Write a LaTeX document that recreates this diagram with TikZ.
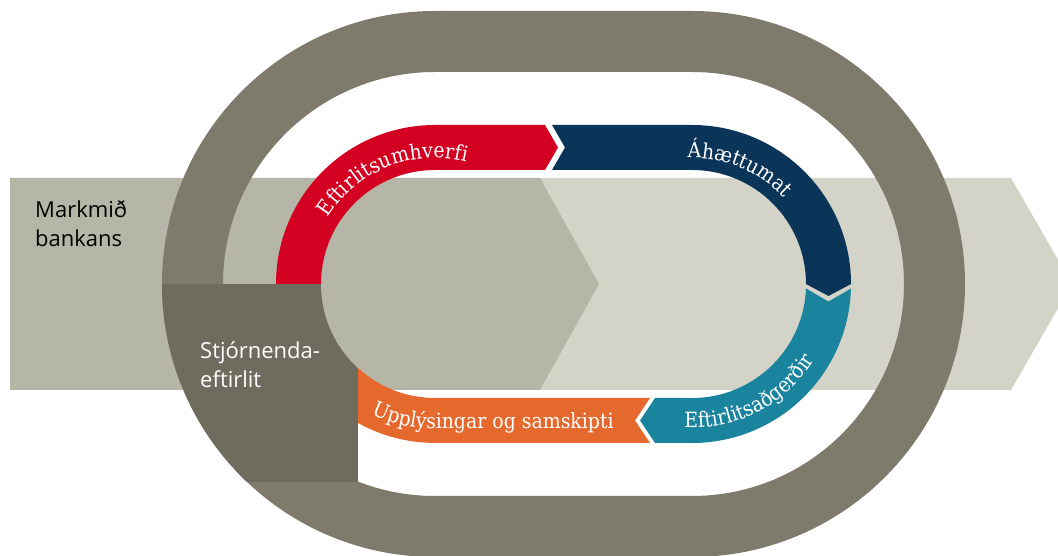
\documentclass[tikz,border=0pt]{standalone}
\usepackage{fontspec}
\setmainfont{Open Sans}
\newfontfamily\arcfont[FakeStretch=0.9]{DejaVu Serif}
\usetikzlibrary{decorations.text,calc}
\definecolor{bandA}{HTML}{B6B6A8}
\definecolor{bandB}{HTML}{D3D3C7}
\definecolor{ringC}{HTML}{7E7B6C}
\definecolor{boxC}{HTML}{6F6C5F}
\definecolor{redC}{HTML}{D30022}
\definecolor{navyC}{HTML}{0B3459}
\definecolor{tealC}{HTML}{1A849F}
\definecolor{orangeC}{HTML}{E5682D}
\newcommand\stad[1]{(435,272+#1) -- (692,272+#1) arc[start angle=90,end angle=-90,radius=#1] -- (435,272-#1) arc[start angle=270,end angle=90,radius=#1] -- cycle}
\newcommand\arcstyle{\arcfont\fontsize{21}{24}\selectfont}
\tikzset{
  sanslabel/.style={font=\fontsize{22}{29}\selectfont, align=left, inner sep=0pt},
  arclabel/.style={decorate, decoration={text along path, text color=white, text align=left, text={|\arcstyle|#1}}}
}
\begin{document}
\begin{tikzpicture}[x=1pt,y=1pt]
\useasboundingbox (0,0) rectangle (1058,556);
\clip (0,0) rectangle (1058,556);
% background band (arrow)
\fill[bandB] (10,166) -- (10,378) -- (1011,378) -- (1072,272) -- (1011,166) -- cycle;
\fill[bandA] (10,166) -- (10,378) -- (540,378) -- (599,272) -- (540,166) -- cycle;
% outer ring
\fill[ringC, even odd rule] \stad{273} \stad{212};
% management box
\begin{scope}
  \clip \stad{273};
  \fill[boxC] (161,74) rectangle (358,272);
\end{scope}
\begin{scope}
  \clip (161,74) rectangle (358,272);
  \fill[bandA] \stad{114};
\end{scope}
% coloured cycle
\fill[redC] (276,272) arc[start angle=180,end angle=90,radius=159] -- (545,431) -- (558,408.5) -- (545,386) -- (435,386) arc[start angle=90,end angle=180,radius=114] -- cycle;
\fill[navyC] (552,431) -- (565,408.5) -- (552,386) -- (692,386) arc[start angle=90,end angle=0,radius=114] -- (828.5,260) -- (851,272) arc[start angle=0,end angle=90,radius=159] -- cycle;
\fill[tealC] (851,267.5) -- (828.5,254.5) -- (806,267.5) arc[start angle=-2.26,end angle=-90,radius=114] -- (655,158) -- (640,135.5) -- (655,113) -- (692,113) arc[start angle=-90,end angle=-1.62,radius=159] -- cycle;
\fill[orangeC] (358,188) -- (358,133) arc[start angle=241,end angle=270,radius=159] -- (650,113) -- (635,135.5) -- (650,158) -- (435,158) arc[start angle=270,end angle=227.5,radius=114] -- cycle;
% texts along the cycle
\path[arclabel={Eftirlitsumhverfi}] ($(435,272)+(148:126)$) arc[start angle=148,end angle=40,radius=126];
\path[arclabel={Áhættumat}] ($(692,272)+(92:126)$) arc[start angle=92,end angle=-20,radius=126];
\path[arclabel={Eftirlitsaðgerðir}] ($(692,272)+(-93:144)$) arc[start angle=-93,end angle=20,radius=144];
\path[arclabel={Upplýsingar og samskipti}] ($(435,272)+(-116:145)$) arc[start angle=-116,end angle=-90,radius=145] -- (780,127);
% labels
\node[sanslabel, anchor=base west] (goal) at (35,309) {Markmið\\bankans};
\node[sanslabel, text=white, anchor=base west] (mgmt) at (200,168) {Stjórnenda-\\eftirlit};
\end{tikzpicture}
\end{document}
